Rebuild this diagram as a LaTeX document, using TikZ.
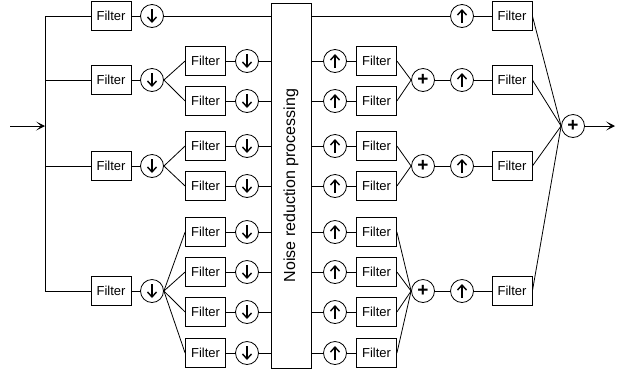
\documentclass[tikz,border=0pt]{standalone}
\usepackage{fontspec}
\setmainfont{Liberation Sans}
\usetikzlibrary{arrows.meta}

\begin{document}
\begin{tikzpicture}[x=1pt,y=-1pt,line width=0.8pt]
		\tikzset{filterbox/.style={draw,minimum width=40pt,minimum height=29pt,inner sep=0pt,font=\fontsize{13}{15}\selectfont}}
		\tikzset{dsamp/.style={circle,draw,minimum size=23pt,inner sep=0pt,path picture={\draw[line width=1.4pt,-{Straight Barb[length=5pt,width=9pt]}] ([yshift=-4.5pt]path picture bounding box.north) -- ([yshift=4.5pt]path picture bounding box.south);}}}
		\tikzset{usamp/.style={circle,draw,minimum size=23pt,inner sep=0pt,path picture={\draw[line width=1.4pt,-{Straight Barb[length=5pt,width=9pt]}] ([yshift=4.5pt]path picture bounding box.south) -- ([yshift=-4.5pt]path picture bounding box.north);}}}
		\tikzset{summer/.style={circle,draw,minimum size=23pt,inner sep=0pt,font=\fontsize{19}{19}\selectfont\bfseries}}
		\tikzset{flow/.style={-{Stealth[length=9pt,width=9pt,inset=5pt]}}}
		\useasboundingbox (0,0) rectangle (620,373);
		% input and bus
		\coordinate (in) at (10,126);
		\coordinate (bus) at (45,126);
		% analysis side
		\node[filterbox] (f1) at (111,16) {Filter};
		\node[dsamp] (d1) at (152,16) {};
		\node[filterbox] (f2) at (111,80) {Filter};
		\node[dsamp] (d2) at (152,80) {};
		\node[filterbox] (f3) at (111,166) {Filter};
		\node[dsamp] (d3) at (152,166) {};
		\node[filterbox] (f4) at (111,291) {Filter};
		\node[dsamp] (d4) at (152,291) {};
		\node[filterbox] (f2a) at (205.5,61) {Filter};
		\node[dsamp] (d2a) at (247,61) {};
		\node[filterbox] (f2b) at (205.5,101) {Filter};
		\node[dsamp] (d2b) at (247,101) {};
		\node[filterbox] (f3a) at (205.5,146) {Filter};
		\node[dsamp] (d3a) at (247,146) {};
		\node[filterbox] (f3b) at (205.5,186) {Filter};
		\node[dsamp] (d3b) at (247,186) {};
		\node[filterbox] (f4a) at (205.5,232) {Filter};
		\node[dsamp] (d4a) at (247,232) {};
		\node[filterbox] (f4b) at (205.5,272) {Filter};
		\node[dsamp] (d4b) at (247,272) {};
		\node[filterbox] (f4c) at (205.5,312) {Filter};
		\node[dsamp] (d4c) at (247,312) {};
		\node[filterbox] (f4d) at (205.5,353) {Filter};
		\node[dsamp] (d4d) at (247,353) {};
		% noise reduction block (rotated: north is on the left)
		\node[draw,rotate=90,minimum width=365pt,minimum height=40pt,inner sep=0pt,font=\fontsize{16}{18}\selectfont] (nr) at (291,185.5) {Noise reduction processing};
		% synthesis side
		\node[usamp] (u2a) at (335,61) {};
		\node[filterbox] (g2a) at (376.5,61) {Filter};
		\node[usamp] (u2b) at (335,101) {};
		\node[filterbox] (g2b) at (376.5,101) {Filter};
		\node[usamp] (u3a) at (335,146) {};
		\node[filterbox] (g3a) at (376.5,146) {Filter};
		\node[usamp] (u3b) at (335,186) {};
		\node[filterbox] (g3b) at (376.5,186) {Filter};
		\node[usamp] (u4a) at (335,232) {};
		\node[filterbox] (g4a) at (376.5,232) {Filter};
		\node[usamp] (u4b) at (335,272) {};
		\node[filterbox] (g4b) at (376.5,272) {Filter};
		\node[usamp] (u4c) at (335,312) {};
		\node[filterbox] (g4c) at (376.5,312) {Filter};
		\node[usamp] (u4d) at (335,353) {};
		\node[filterbox] (g4d) at (376.5,353) {Filter};
		\node[summer] (p2) at (423,80) {+};
		\node[summer] (p3) at (423,166) {+};
		\node[summer] (p4) at (423,291) {+};
		\node[usamp] (u1) at (462,16) {};
		\node[filterbox] (h1) at (512,16) {Filter};
		\node[usamp] (u2) at (462,80) {};
		\node[filterbox] (h2) at (512,80) {Filter};
		\node[usamp] (u3) at (462,166) {};
		\node[filterbox] (h3) at (512,166) {Filter};
		\node[usamp] (u4) at (462,291) {};
		\node[filterbox] (h4) at (512,291) {Filter};
		\node[summer] (ps) at (573,126) {+};
		\coordinate (out) at (615,126);
		% connections, analysis
		\draw[flow] (in) -- (bus);
		\draw (bus |- f1) -- (bus |- f4);
		\draw (bus |- f1) -- (f1);
		\draw (bus |- f2) -- (f2);
		\draw (bus |- f3) -- (f3);
		\draw (bus |- f4) -- (f4);
		\draw (f1) -- (d1);
		\draw (f2) -- (d2);
		\draw (f3) -- (d3);
		\draw (f4) -- (d4);
		\draw (d2.east) -- (f2a.west);
		\draw (d2.east) -- (f2b.west);
		\draw (d3.east) -- (f3a.west);
		\draw (d3.east) -- (f3b.west);
		\draw (d4.east) -- (f4a.west);
		\draw (d4.east) -- (f4b.west);
		\draw (d4.east) -- (f4c.west);
		\draw (d4.east) -- (f4d.west);
		\draw (f2a) -- (d2a);
		\draw (f2b) -- (d2b);
		\draw (f3a) -- (d3a);
		\draw (f3b) -- (d3b);
		\draw (f4a) -- (d4a);
		\draw (f4b) -- (d4b);
		\draw (f4c) -- (d4c);
		\draw (f4d) -- (d4d);
		\draw (d1) -- (d1 -| nr.north);
		\draw (d2a) -- (d2a -| nr.north);
		\draw (d2b) -- (d2b -| nr.north);
		\draw (d3a) -- (d3a -| nr.north);
		\draw (d3b) -- (d3b -| nr.north);
		\draw (d4a) -- (d4a -| nr.north);
		\draw (d4b) -- (d4b -| nr.north);
		\draw (d4c) -- (d4c -| nr.north);
		\draw (d4d) -- (d4d -| nr.north);
		% connections, synthesis
		\draw (nr.south |- u1) -- (u1);
		\draw (nr.south |- u2a) -- (u2a);
		\draw (nr.south |- u2b) -- (u2b);
		\draw (nr.south |- u3a) -- (u3a);
		\draw (nr.south |- u3b) -- (u3b);
		\draw (nr.south |- u4a) -- (u4a);
		\draw (nr.south |- u4b) -- (u4b);
		\draw (nr.south |- u4c) -- (u4c);
		\draw (nr.south |- u4d) -- (u4d);
		\draw (u2a) -- (g2a);
		\draw (u2b) -- (g2b);
		\draw (u3a) -- (g3a);
		\draw (u3b) -- (g3b);
		\draw (u4a) -- (g4a);
		\draw (u4b) -- (g4b);
		\draw (u4c) -- (g4c);
		\draw (u4d) -- (g4d);
		\draw (g2a.east) -- (p2.west);
		\draw (g2b.east) -- (p2.west);
		\draw (g3a.east) -- (p3.west);
		\draw (g3b.east) -- (p3.west);
		\draw (g4a.east) -- (p4.west);
		\draw (g4b.east) -- (p4.west);
		\draw (g4c.east) -- (p4.west);
		\draw (g4d.east) -- (p4.west);
		\draw (p2) -- (u2);
		\draw (p3) -- (u3);
		\draw (p4) -- (u4);
		\draw (u1) -- (h1);
		\draw (u2) -- (h2);
		\draw (u3) -- (h3);
		\draw (u4) -- (h4);
		\draw (h1.east) -- (ps.west);
		\draw (h2.east) -- (ps.west);
		\draw (h3.east) -- (ps.west);
		\draw (h4.east) -- (ps.west);
		\draw[flow] (ps) -- (out);
\end{tikzpicture}
\end{document}
